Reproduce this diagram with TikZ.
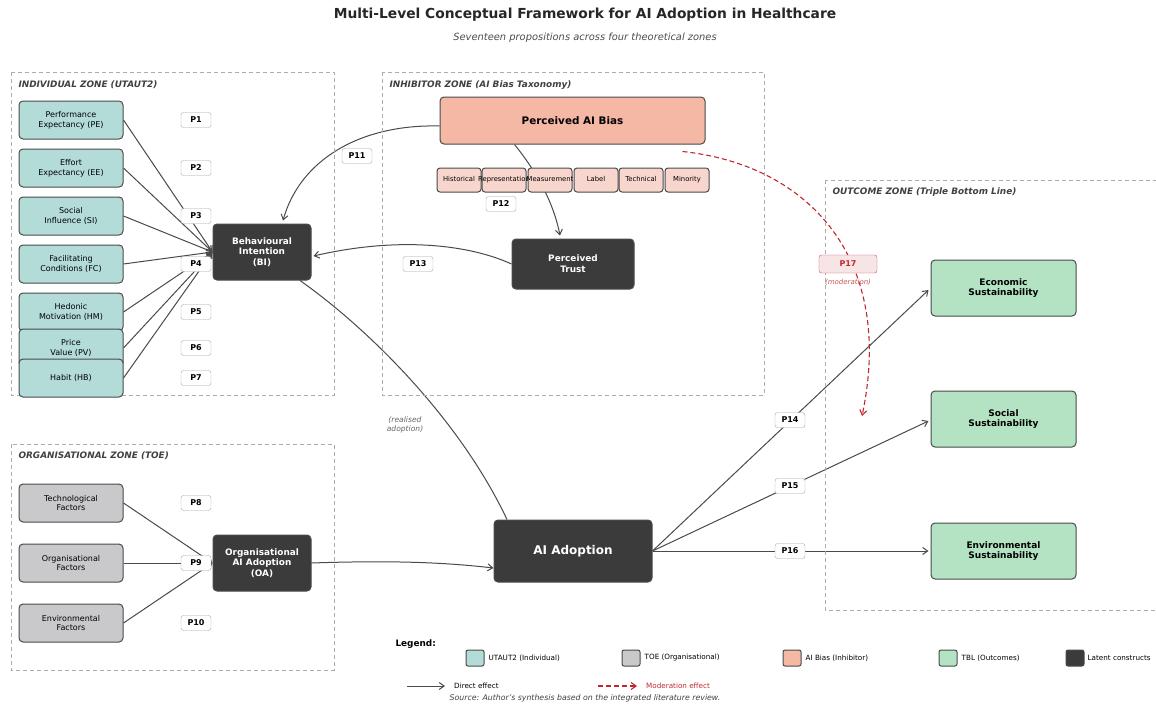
\documentclass[tikz,border=0pt]{standalone}
\usepackage{fontspec}
\setmainfont{DejaVu Sans}
\usetikzlibrary{arrows.meta,positioning}

\definecolor{utautfill}{HTML}{B3DCD9}
\definecolor{toefill}{HTML}{C9C9CB}
\definecolor{biasfill}{HTML}{F4B8A5}
\definecolor{biaslight}{HTML}{F9D6CD}
\definecolor{tblfill}{HTML}{B3E3C3}
\definecolor{latentfill}{HTML}{3B3B3B}
\definecolor{modred}{HTML}{C0282D}
\definecolor{edgegray}{HTML}{4A4A4A}

\pgfdeclarelayer{bg}
\pgfsetlayers{bg,main}

\newcommand{\fs}[1]{\fontsize{#1pt}{\fpeval{#1*1.2}pt}\selectfont}

\begin{document}
\begin{tikzpicture}[x=1pt,y=-1pt,
  box/.style={draw=edgegray,line width=1pt,rounded corners=4pt,align=center,inner sep=1pt},
  utaut/.style={box,fill=utautfill,minimum width=104pt,minimum height=38pt,font=\fs{8}},
  toe/.style={box,fill=toefill,minimum width=104pt,minimum height=38pt,font=\fs{8}},
  latent/.style={box,fill=latentfill,text=white,font=\bfseries\fs{8.9}},
  tbl/.style={box,fill=tblfill,minimum width=145pt,minimum height=56pt,font=\bfseries\fs{9}},
  biasbox/.style={box,fill=biaslight,minimum width=44pt,minimum height=24pt,font=\fs{6.8},rounded corners=3pt,text height=5pt,text depth=1.5pt},
  plabel/.style={draw=gray!70,fill=white,rounded corners=2.5pt,minimum width=30pt,minimum height=15pt,inner sep=1pt,font=\bfseries\fs{8}},
  zone/.style={draw=gray!65,dashed,dash pattern=on 4pt off 3pt,line width=0.8pt},
  zonetitle/.style={anchor=west,text=black!75,font=\bfseries\itshape\fs{8.9}},
  effect/.style={draw=edgegray,line width=1pt,-{Straight Barb[length=5pt,width=7pt]}},
  moderation/.style={draw=modred,line width=1.1pt,dashed,dash pattern=on 5pt off 3pt,-{Straight Barb[length=5pt,width=7pt]}},
  swatch/.style={box,minimum width=18pt,minimum height=16pt,rounded corners=2pt},
  legendtext/.style={anchor=west,inner sep=1pt,font=\fs{7.2}}
]
\useasboundingbox (0,0) rectangle (1156,704);

% title
\node[font=\bfseries\fs{13.8},text=black!85] (title) at (585,15) {Multi-Level Conceptual Framework for AI Adoption in Healthcare};
\node[font=\itshape\fs{9.9},text=black!70] (subtitle) at (585,38) {Seventeen propositions across four theoretical zones};

% zones
\draw[zone] (11,72) rectangle (334,395);
\draw[zone] (382,72) rectangle (764,395);
\draw[zone] (11,444) rectangle (334,670);
\draw[zone] (825,180) rectangle (1170,610);
\node[zonetitle] (zind) at (15,85) {INDIVIDUAL ZONE (UTAUT2)};
\node[zonetitle] (zinh) at (386,85) {INHIBITOR ZONE (AI Bias Taxonomy)};
\node[zonetitle] (zorg) at (15,456) {ORGANISATIONAL ZONE (TOE)};
\node[zonetitle] (zout) at (829,192) {OUTCOME ZONE (Triple Bottom Line)};

% individual zone
\node[utaut] (pe) at (71,120) {Performance\\Expectancy (PE)};
\node[utaut] (ee) at (71,168) {Effort\\Expectancy (EE)};
\node[utaut] (si) at (71,216) {Social\\Influence (SI)};
\node[utaut] (fc) at (71,264) {Facilitating\\Conditions (FC)};
\node[utaut] (hm) at (71,312) {Hedonic\\Motivation (HM)};
\node[utaut] (pv) at (71,348) {Price\\Value (PV)};
\node[utaut] (hb) at (71,378) {Habit (HB)};
\node[latent,minimum width=98pt,minimum height=56pt] (bi) at (262,252) {Behavioural\\Intention\\(BI)};

% organisational zone
\node[toe] (tech) at (71,503) {Technological\\Factors};
\node[toe] (orgf) at (71,563) {Organisational\\Factors};
\node[toe] (envf) at (71,623) {Environmental\\Factors};
\node[latent,minimum width=98pt,minimum height=56pt] (oa) at (262,563) {Organisational\\AI Adoption\\(OA)};

% inhibitor zone
\node[box,fill=biasfill,minimum width=265pt,minimum height=47pt,font=\bfseries\fs{10.4}] (bias) at (572.5,120.5) {Perceived AI Bias};
\node[biasbox] (hist) at (459,180) {\makebox[0pt]{Historical}};
\node[biasbox] (repr) at (504,180) {\makebox[0pt]{Representation}};
\node[biasbox] (meas) at (550,180) {\makebox[0pt]{Measurement}};
\node[biasbox] (labl) at (596,180) {\makebox[0pt]{Label}};
\node[biasbox] (tech2) at (641,180) {\makebox[0pt]{Technical}};
\node[biasbox] (mino) at (687,180) {\makebox[0pt]{Minority}};
\node[latent,minimum width=122pt,minimum height=50pt] (trust) at (573,264) {Perceived\\Trust};

% adoption and outcomes
\node[latent,minimum width=158pt,minimum height=62pt,font=\bfseries\fs{12}] (aia) at (573,551) {AI Adoption};
\node[tbl] (econ) at (1003.5,288) {Economic\\Sustainability};
\node[tbl] (soc) at (1003.5,419) {Social\\Sustainability};
\node[tbl] (envs) at (1003.5,551) {Environmental\\Sustainability};

% connectors
\begin{pgfonlayer}{bg}
\foreach \src in {pe,ee,si,fc,hm,pv,hb}
  \draw[effect] (\src.east) -- (bi.west);
\foreach \src in {tech,orgf,envf}
  \draw[effect] (\src.east) -- (oa.west);
\draw[effect] ([yshift=-5.5pt]bias.west) .. controls (360,124) and (300,160) .. ([xshift=21pt,yshift=3pt]bi.north); % P11
\draw[effect] ([xshift=-58pt]bias.south) .. controls (535,170) and (553,200) .. ([xshift=-13pt,yshift=3pt]trust.north); % P12
\draw[effect] (trust.west) .. controls (470,245) and (400,236) .. ([xshift=2pt,yshift=-4pt]bi.east); % P13
\draw[draw=edgegray,line width=1pt] ([xshift=38pt]bi.south) .. controls (370,330) and (460,420) .. ([xshift=-66pt]aia.north);
\draw[effect] (oa.east) .. controls (400,560) and (450,563) .. ([yshift=-17pt]aia.west);
\draw[effect] (aia.east) -- ([xshift=-2pt,yshift=-2pt]econ.west);
\draw[effect] (aia.east) -- ([xshift=-2pt,yshift=-2pt]soc.west);
\draw[effect] (aia.east) -- ([xshift=-2pt]envs.west);
\coordinate (modend) at (862,416);
\draw[moderation] ([xshift=-23pt,yshift=-7pt]bias.south east) .. controls (810,165) and (895,260) .. (modend); % P17
\end{pgfonlayer}

% proposition labels
\foreach \p/\y in {P1/120,P2/168,P3/216,P4/264,P5/312,P6/348,P7/378,P8/503,P9/563,P10/623}
  \node[plabel] (\p) at (196,\y) {\p};
\node[plabel] (P11) at (357,156) {P11};
\node[plabel] (P12) at (501,204) {P12};
\node[plabel] (P13) at (418,264) {P13};
\node[plabel] (P14) at (790,420) {P14};
\node[plabel] (P15) at (790,486) {P15};
\node[plabel] (P16) at (790,551) {P16};
\node[plabel,draw=modred!80,fill=modred!12,text=modred,minimum width=58pt,minimum height=18pt] (P17) at (848,264) {P17};
\node[font=\itshape\fs{7},text=modred!80] (modnote) at (848,282) {(moderation)};
\node[font=\itshape\fs{7.6},text=black!60,align=center] (realised) at (405,425) {(realised\\adoption)};

% legend
\node[anchor=west,font=\bfseries\fs{8.9}] (legend) at (392,644) {Legend:};
\node[swatch,fill=utautfill] (sw1) at (475,658) {};
\node[legendtext,right=3pt of sw1] (lt1) {UTAUT2 (Individual)};
\node[swatch,fill=toefill] (sw2) at (631,658) {};
\node[legendtext,right=3pt of sw2] (lt2) {TOE (Organisational)};
\node[swatch,fill=biasfill] (sw3) at (792,658) {};
\node[legendtext,right=3pt of sw3] (lt3) {AI Bias (Inhibitor)};
\node[swatch,fill=tblfill] (sw4) at (948,658) {};
\node[legendtext,right=3pt of sw4] (lt4) {TBL (Outcomes)};
\node[swatch,fill=latentfill] (sw5) at (1075,658) {};
\node[legendtext,right=2pt of sw5] (lt5) {Latent constructs};
\coordinate (la1) at (407,686);
\coordinate (la2) at (445,686);
\coordinate (lm1) at (598,686);
\coordinate (lm2) at (637,686);
\draw[effect] (la1) -- (la2);
\node[legendtext] (ltd) at (453,686) {Direct effect};
\draw[moderation] (lm1) -- (lm2);
\node[legendtext,text=modred] (ltm) at (645,686) {Moderation effect};
\node[font=\itshape\fs{7.8},text=black!75] (source) at (585,698) {Source: Author's synthesis based on the integrated literature review.};
\end{tikzpicture}
\end{document}
